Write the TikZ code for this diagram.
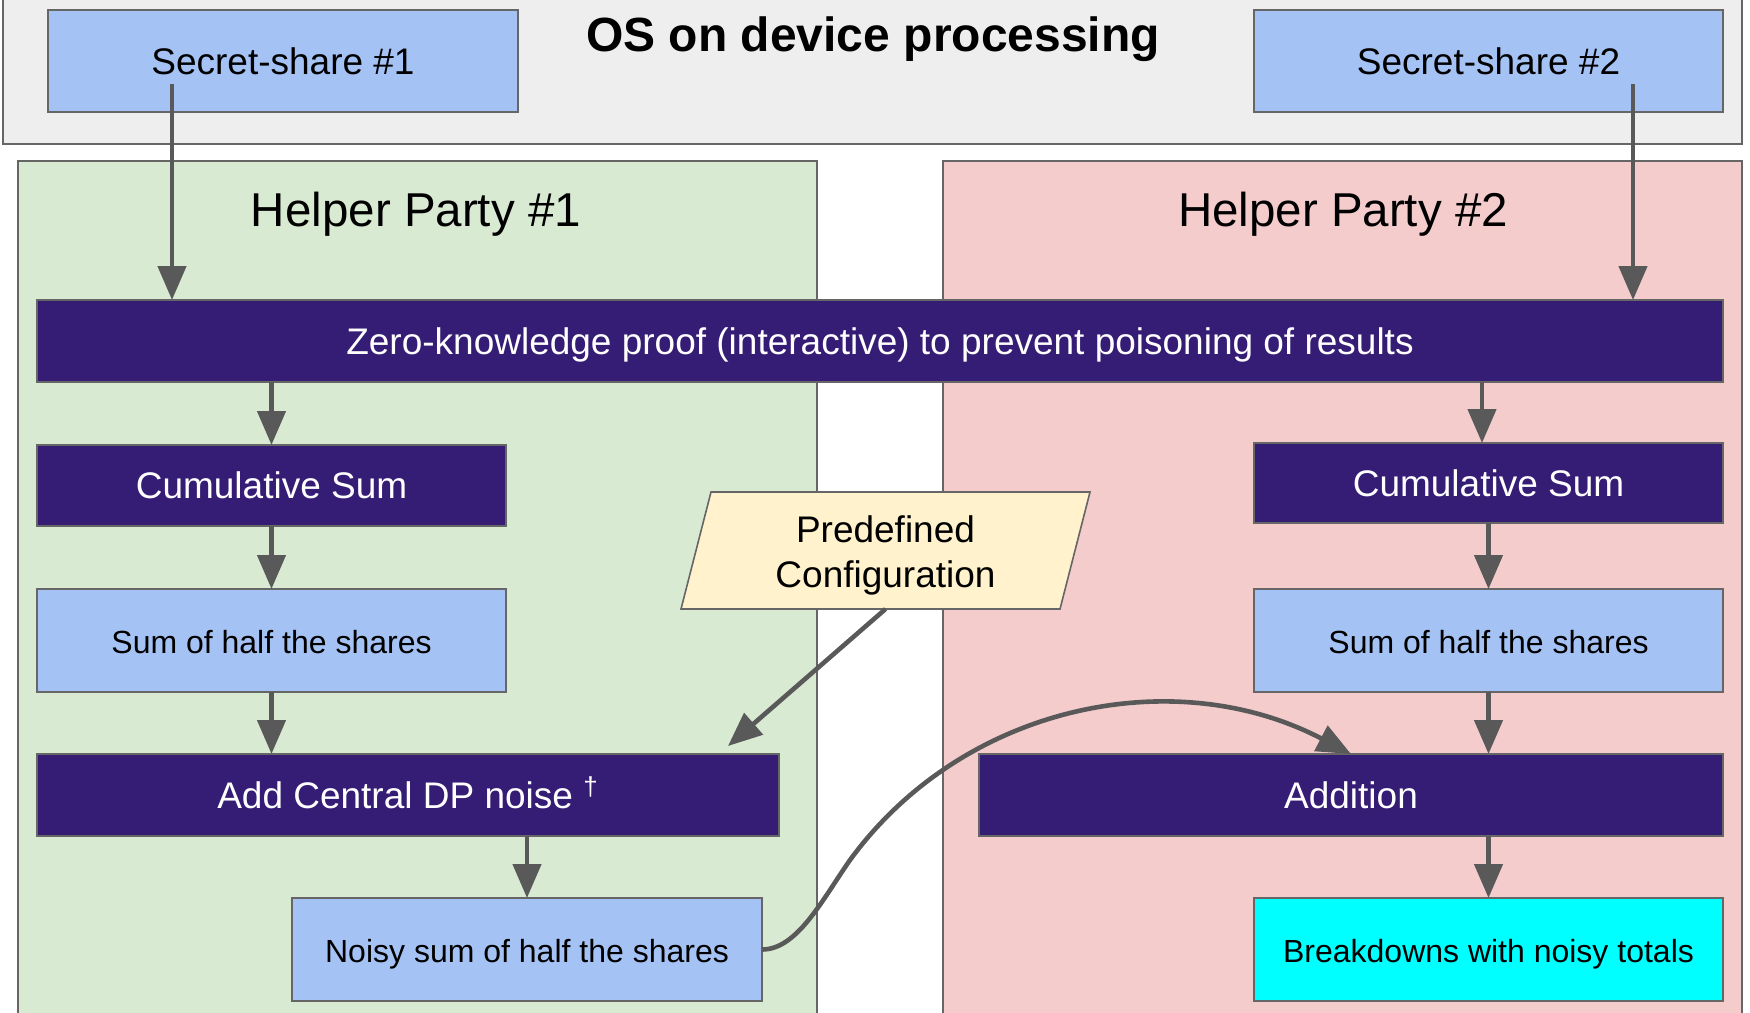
\documentclass[tikz,border=0pt]{standalone}
\usepackage{fontspec}
\setmainfont{Liberation Sans}
\usetikzlibrary{arrows.meta}

\definecolor{osgray}{HTML}{EEEEEE}
\definecolor{edgegray}{HTML}{666666}
\definecolor{flowgray}{HTML}{595959}
\definecolor{shareblue}{HTML}{A4C2F4}
\definecolor{stepviolet}{HTML}{351C75}
\definecolor{partygreen}{HTML}{D9EAD3}
\definecolor{partypink}{HTML}{F4CCCC}
\definecolor{configyellow}{HTML}{FFF2CC}
\definecolor{resultcyan}{HTML}{00FFFF}

\begin{document}
\begin{tikzpicture}[x=0.5pt,y=-0.5pt,
  every node/.style={inner sep=0pt, outer sep=0pt},
  frame/.style={draw=edgegray, line width=0.8pt, rectangle},
  % text is centred on its cap height
  bigtext/.style={font=\fontsize{18.5}{22}\selectfont, text height=13.25pt, text depth=0pt},
  smalltext/.style={font=\fontsize{16}{19}\selectfont, text height=13.2pt, text depth=0pt},
  lightbox/.style={frame, fill=shareblue, text=black, smalltext},
  sharebox/.style={frame, fill=shareblue, text=black, bigtext},
  darkbox/.style={frame, fill=stepviolet, text=white, bigtext},
  partylabel/.style={font=\fontsize{23.75}{28}\selectfont, text height=17pt, text depth=0pt},
  flow/.style={draw=flowgray, line width=2.3pt,
    -{Triangle[length=17pt, width=14pt]}, fill=none},
]
\useasboundingbox (0,0) rectangle (1750,1012);

% on-device area
\node[frame, fill=osgray, minimum width=869.5pt, minimum height=73pt] (os) at (872.5,71) {};
\node[font=\fontsize{24}{28}\selectfont\bfseries, text height=17.2pt, text depth=0pt] (ostitle) at (873,34.5) {OS on device processing};
\node[sharebox, minimum width=235pt, minimum height=51pt] (s1) at (283,61) {Secret-share \#1};
\node[sharebox, minimum width=234.5pt, minimum height=51pt] (s2) at (1488.5,61) {Secret-share \#2};

% helper party areas
\node[frame, fill=partygreen, minimum width=399.5pt, minimum height=430pt] (hp1) at (417.5,591) {};
\node[frame, fill=partypink, minimum width=399.5pt, minimum height=430pt] (hp2) at (1342.5,591) {};
\node[partylabel] (hp1label) at (416,209) {Helper Party \#1};
\node[partylabel] (hp2label) at (1343,209) {Helper Party \#2};

% shared proof step
\node[darkbox, minimum width=843pt, minimum height=41pt] (zkp) at (880,341)
  {Zero-knowledge proof (interactive) to prevent poisoning of results};

% helper party 1 pipeline
\node[darkbox, minimum width=234.5pt, minimum height=40.5pt] (cs1) at (271.5,485.5) {Cumulative Sum};
\node[lightbox, minimum width=234.5pt, minimum height=51.5pt] (sh1) at (271.5,640.5) {Sum of half the shares};
\node[darkbox, minimum width=371pt, minimum height=41pt] (add) at (408,795) {Add Central DP noise \textsuperscript{†}};
\node[lightbox, minimum width=235pt, minimum height=51.5pt] (noisy) at (527,949.5) {Noisy sum of half the shares};

% helper party 2 pipeline
\node[darkbox, minimum width=234.5pt, minimum height=40pt] (cs2) at (1488.5,483) {Cumulative Sum};
\node[lightbox, minimum width=234.5pt, minimum height=51.5pt] (sh2) at (1488.5,640.5) {Sum of half the shares};
\node[darkbox, minimum width=372pt, minimum height=41pt] (addn) at (1351,795) {Addition};
\node[lightbox, fill=resultcyan, minimum width=234.5pt, minimum height=51.5pt] (brk) at (1488.5,949.5) {Breakdowns with noisy totals};

% configuration parallelogram
\coordinate (pctl) at (711,492);
\coordinate (pctr) at (1090,492);
\coordinate (pcbr) at (1060,609);
\coordinate (pcbl) at (681,609);
\filldraw[fill=configyellow, draw=edgegray, line width=0.8pt] (pctl) -- (pctr) -- (pcbr) -- (pcbl) -- cycle;
\node[minimum width=189.5pt, minimum height=58.5pt] (pc) at (885.5,550.5) {};
\node[anchor=base, font=\fontsize{18.5}{22}\selectfont] (pcline1) at (885.5,542.5) {Predefined};
\node[anchor=base, font=\fontsize{18.5}{22}\selectfont] (pcline2) at (885.5,587) {Configuration};

% connectors
\coordinate (s1tail) at (172,84);
\coordinate (s2tail) at (1633,84);
\coordinate (zk2) at (1482,382);
\coordinate (pcend) at (728,746);

\draw[flow] (s1tail) -- (s1tail |- zkp.north);
\draw[flow] (s2tail) -- (s2tail |- zkp.north);
\draw[flow] (cs1.north |- zkp.south) -- (cs1.north);
\draw[flow] (cs1.south) -- (sh1.north);
\draw[flow] (sh1.south) -- (sh1.south |- add.north);
\draw[flow] (noisy.north |- add.south) -- (noisy.north);
\draw[flow] (zk2) -- (zk2 |- cs2.north);
\draw[flow] (cs2.south) -- (sh2.north);
\draw[flow] (sh2.south) -- (sh2.south |- addn.north);
\draw[flow] (brk.north |- addn.south) -- (brk.north);
\draw[flow] (pc.south) -- (pcend);
\draw[flow] (noisy.east) .. controls (797,949.5) and (821.5,901) .. (850,860)
  .. controls (964,704) and (1175,662) .. (addn.north);
\end{tikzpicture}
\end{document}
